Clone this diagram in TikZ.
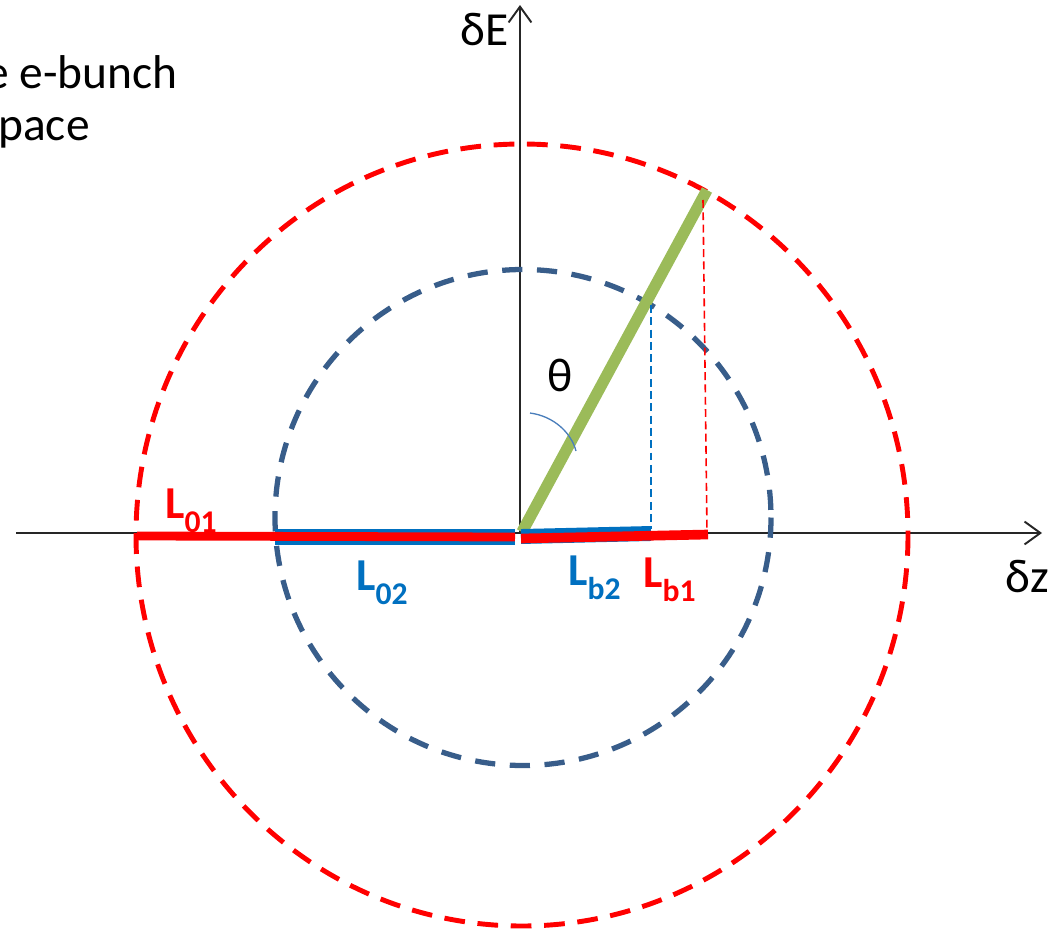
\documentclass[tikz,border=0pt]{standalone}
\usepackage{fontspec}
\setmainfont{Carlito}
\usetikzlibrary{arrows.meta}
\definecolor{cred}{HTML}{FF0000}
\definecolor{cblue}{HTML}{0070C0}
\definecolor{cnavy}{HTML}{385D8A}
\definecolor{cgreen}{HTML}{9BBB59}
\definecolor{carc}{HTML}{4A7EBB}
\definecolor{caxis}{HTML}{262626}
\newcommand\Lbl[1]{L\raisebox{-8pt}{\fontsize{18}{18}\selectfont #1}}
\begin{document}
\begin{tikzpicture}[x=0.02cm,y=-0.02cm,
  axis/.style={draw=caxis,line width=1.1pt,-{Straight Barb[length=9pt,width=13pt,line width=1.1pt]}},
  redcirc/.style={draw=cred,line width=2.8pt,dash pattern=on 11.8pt off 7.2pt},
  bluecirc/.style={draw=cnavy,line width=3pt,dash pattern=on 11.5pt off 8.3pt},
  thindash/.style={line width=0.9pt,dash pattern=on 4.5pt off 2.5pt},
  bigtxt/.style={inner sep=0pt,font=\fontsize{27}{32}\selectfont},
  lbl/.style={inner sep=0pt,font=\fontsize{26}{30}\selectfont\bfseries}]
\useasboundingbox (0,0) rectangle (1052,933);
% coordinates
\coordinate (O) at (520,533);
\coordinate (xl) at (16,533);
\coordinate (xr) at (1042,533);
\coordinate (yt) at (520,5);
\coordinate (g0) at (522,532);
\coordinate (g1) at (707,190);
\coordinate (rv0) at (703,200);
\coordinate (rv1) at (707,532);
\coordinate (bv0) at (651,305);
\coordinate (bv1) at (651,529);
\coordinate (bl0) at (275,537);
\coordinate (bl1) at (515,537);
\coordinate (rl0) at (137,536);
\coordinate (rl1) at (515,537);
\coordinate (br0) at (521,536.5);
\coordinate (br1) at (651,533.5);
\coordinate (rr0) at (521,538.5);
\coordinate (rr1) at (708,534.5);
\coordinate (a0) at (530,413);
\coordinate (a1) at (576,451);
% axes
\draw[axis] (xl) -- (xr);
\draw[axis] (O) -- (yt);
% circles
\draw[redcirc] (522,535) ellipse [x radius=386, y radius=391];
\draw[bluecirc] (523,517.5) circle [radius=248];
% green radius
\draw[cgreen,line width=6.5pt] (g0) -- (g1);
% projections
\draw[thindash,cred] (rv0) -- (rv1);
\draw[thindash,cblue] (bv0) -- (bv1);
% thick lengths
\draw[cblue,line width=9.5pt] (bl0) -- (bl1);
\draw[cred,line width=5pt] (rl0) -- (rl1);
\draw[cblue,line width=8.5pt] (br0) -- (br1);
\draw[cred,line width=5.5pt] (rr0) -- (rr1);
% angle arc
\draw[carc,line width=0.75pt] (a0) .. controls (553,416) and (571,432) .. (a1);
% texts
\node[bigtxt,anchor=base east] (t1) at (178,88) {e e-bunch};
\node[bigtxt,anchor=base east] (t2) at (90,140) {pace};
\node[bigtxt,anchor=base west] (dE) at (460,45) {δE};
\node[bigtxt,anchor=base west] (dz) at (1005,592) {δz};
\node[bigtxt,anchor=base west] (th) at (547,391) {θ};
\node[lbl,text=cred,anchor=base west] (L01) at (165,518) {\Lbl{01}};
\node[lbl,text=cblue,anchor=base west] (L02) at (356,590) {\Lbl{02}};
\node[lbl,text=cblue,anchor=base west] (Lb2) at (568,585) {\Lbl{b2}};
\node[lbl,text=cred,anchor=base west] (Lb1) at (643,587) {\Lbl{b1}};
\end{tikzpicture}
\end{document}
